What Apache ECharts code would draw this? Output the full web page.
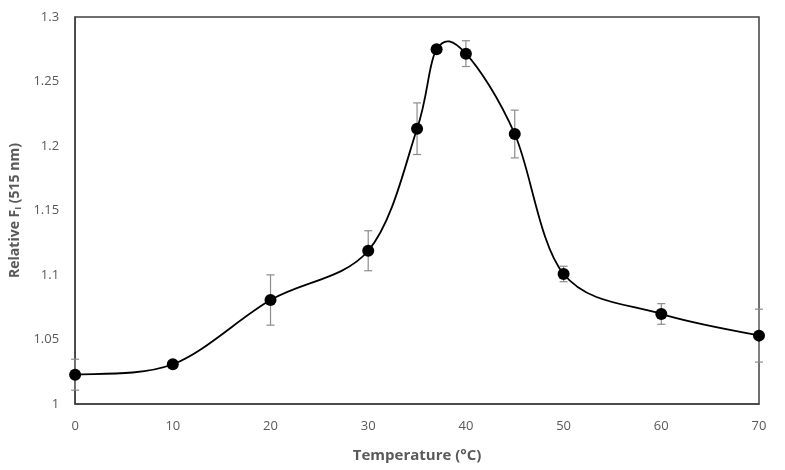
<!DOCTYPE html>
<html>
<head>
<meta charset="utf-8">
<script src="https://cdn.jsdelivr.net/npm/echarts@6/dist/echarts.min.js"></script>
<style>html,body{margin:0;padding:0;background:#fff}#c{width:785px;height:470px}</style>
</head>
<body>
<div id="c"></div>
<script>
var temps = [0, 10, 20, 30, 35, 37, 40, 45, 50, 60, 70];
var values = [1.0227, 1.0308, 1.0806, 1.1188, 1.2134, 1.2750, 1.2716, 1.2093, 1.1008, 1.0698, 1.0530];
var errors = [0.012, 0.002, 0.0195, 0.0155, 0.020, 0.001, 0.010, 0.0185, 0.006, 0.008, 0.0205];
var xTicks = [0, 10, 20, 30, 40, 50, 60, 70];
var yTicks = [1, 1.05, 1.1, 1.15, 1.2, 1.25, 1.3];

var lineData = temps.map(function (t, i) { return [t, values[i]]; });
var errData = temps.map(function (t, i) { return [t, values[i] - errors[i], values[i] + errors[i]]; });

var chart = echarts.init(document.getElementById('c'), null, {renderer: 'canvas'});
var font = 'Open Sans, Liberation Sans, sans-serif';
chart.setOption({
  animation: false,
  backgroundColor: '#fff',
  grid: {left: 72, top: 17, right: 26, bottom: 66, show: true, borderColor: '#404040', borderWidth: 1.5},
  xAxis: {
    type: 'value', min: xTicks[0], max: xTicks[xTicks.length - 1], interval: 10,
    name: 'Temperature (°C)', nameLocation: 'middle', nameGap: 44,
    nameTextStyle: {color: '#595959', fontSize: 15, fontWeight: 'bold', fontFamily: font},
    axisLine: {lineStyle: {color: '#404040', width: 1.5}},
    axisTick: {show: false},
    splitLine: {show: false},
    axisLabel: {color: '#595959', fontSize: 13, fontFamily: font, margin: 16}
  },
  yAxis: {
    type: 'value', min: yTicks[0], max: yTicks[yTicks.length - 1], interval: 0.05,
    name: '{a|Relative F}{s|I}{a| (515 nm)}', nameLocation: 'middle', nameGap: 52, nameRotate: 90,
    nameTextStyle: {
      color: '#595959', fontFamily: font,
      rich: {
        a: {fontSize: 14, fontWeight: 'bold', color: '#595959', fontFamily: font},
        s: {fontSize: 9, fontWeight: 'bold', color: '#595959', fontFamily: font, verticalAlign: 'bottom', padding: [6, 0, 0, 0]}
      }
    },
    axisLine: {lineStyle: {color: '#404040', width: 1.5}},
    axisTick: {show: false},
    splitLine: {show: false},
    axisLabel: {color: '#595959', fontSize: 13, fontFamily: font, margin: 16}
  },
  series: [
    {
      type: 'custom', z: 1,
      data: errData,
      renderItem: function (params, api) {
        var x = api.value(0);
        var lo = api.coord([x, api.value(1)]);
        var hi = api.coord([x, api.value(2)]);
        var w = 4;
        var st = {stroke: '#8c8c8c', lineWidth: 1.2};
        return {type: 'group', children: [
          {type: 'line', shape: {x1: lo[0], y1: lo[1], x2: hi[0], y2: hi[1]}, style: st},
          {type: 'line', shape: {x1: lo[0] - w, y1: lo[1], x2: lo[0] + w, y2: lo[1]}, style: st},
          {type: 'line', shape: {x1: hi[0] - w, y1: hi[1], x2: hi[0] + w, y2: hi[1]}, style: st}
        ]};
      }
    },
    {
      // smooth curve (Catmull-Rom style, like a spreadsheet smoothed line) through the data points
      type: 'custom', z: 2,
      data: [0],
      renderItem: function (params, api) {
        var p = lineData.map(function (d) { return api.coord(d); });
        var n = p.length, children = [];
        for (var i = 0; i < n - 1; i++) {
          var p0 = p[Math.max(i - 1, 0)], p1 = p[i], p2 = p[i + 1], p3 = p[Math.min(i + 2, n - 1)];
          children.push({
            type: 'bezierCurve',
            shape: {
              x1: p1[0], y1: p1[1], x2: p2[0], y2: p2[1],
              cpx1: p1[0] + (p2[0] - p0[0]) / 6, cpy1: p1[1] + (p2[1] - p0[1]) / 6,
              cpx2: p2[0] - (p3[0] - p1[0]) / 6, cpy2: p2[1] - (p3[1] - p1[1]) / 6
            },
            style: {stroke: '#000', lineWidth: 1.8, fill: null}
          });
        }
        return {type: 'group', children: children};
      }
    },
    {
      type: 'scatter', z: 3,
      data: lineData,
      symbol: 'circle', symbolSize: 12,
      itemStyle: {color: '#000', opacity: 1}
    }
  ]
});
</script>
</body>
</html>
